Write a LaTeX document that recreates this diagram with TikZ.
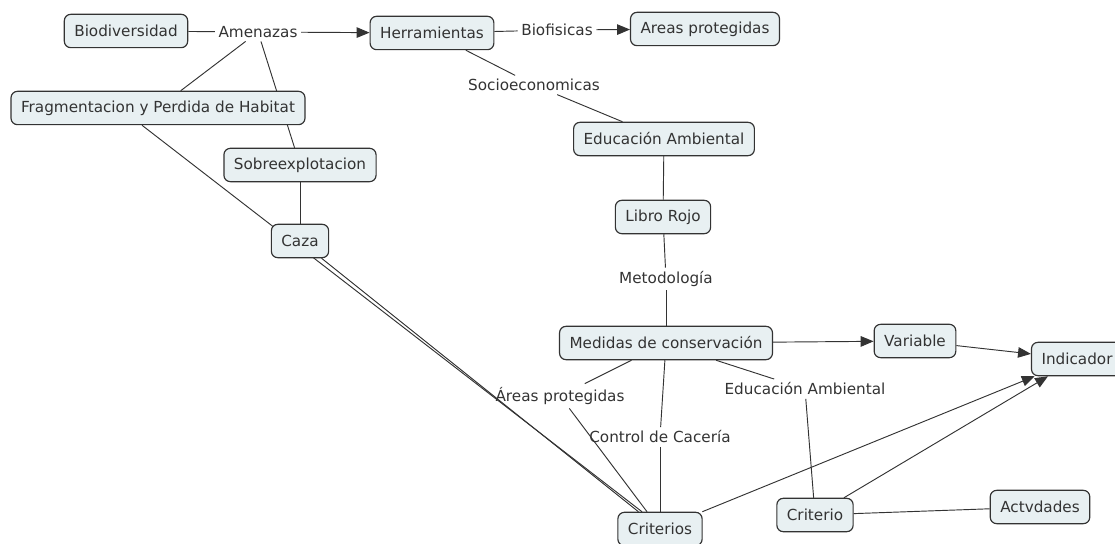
\documentclass[tikz,border=0pt]{standalone}
\usepackage{fontspec}
\setmainfont{DejaVu Sans}
\usetikzlibrary{arrows.meta,backgrounds,calc}
\definecolor{boxfill}{HTML}{E8F0F2}
\definecolor{ink}{HTML}{333333}
\tikzset{
  concept/.style={draw=ink,fill=boxfill,rounded corners=1ex,line width=1pt,
    minimum height=1cm,inner xsep=0.3cm,text=ink,font=\fontsize{13}{15}\selectfont},
  linkword/.style={inner sep=3pt,text=ink,font=\fontsize{13}{15}\selectfont},
  link/.style={draw=ink,line width=0.8pt},
  linkto/.style={link,-{Triangle[length=11pt,width=9pt]}}
}
\begin{document}
\begin{tikzpicture}[x=0.03cm,y=-0.03cm]
        \useasboundingbox (0,0) rectangle (1115,544);
        %% Concepts
        \node[concept] (bio) at (126,31) {Biodiversidad};
        \node[concept] (herr) at (432,33) {Herramientas};
        \node[concept] (areas) at (705,29) {Areas protegidas};
        \node[concept] (frag) at (158,108) {Fragmentacion y Perdida de Habitat};
        \node[concept] (sobre) at (300,165) {Sobreexplotacion};
        \node[concept] (caza) at (300,241) {Caza};
        \node[concept] (edu) at (664,139) {Educación Ambiental};
        \node[concept] (libro) at (663,217) {Libro Rojo};
        \node[concept] (medidas) at (666,343) {Medidas de conservación};
        \node[concept] (var) at (915,341) {Variable};
        \node[concept] (ind) at (1077,359) {Indicador};
        \node[concept] (crits) at (660,529) {Criterios};
        \node[concept] (crit) at (815,515) {Criterio};
        \node[concept] (act) at (1040,507) {Actvdades};
        %% Linking words
        \node[linkword] (amen) at (258,32) {Amenazas};
        \node[linkword] (biof) at (557,30) {Biofisicas};
        \node[linkword] (socio) at (534,85) {Socioeconomicas};
        \node[linkword] (metod) at (666,279) {Metodología};
        \node[linkword] (lareas) at (560,396) {Áreas protegidas};
        \node[linkword] (control) at (660,437) {Control de Cacería};
        \node[linkword] (ledu) at (805,389) {Educación Ambiental};
        %% Lines
        \begin{scope}[on background layer]
        \draw[link] (bio) -- (amen);
        \draw[linkto] (amen) -- (herr);
        \draw[link] (amen) -- (frag);
        \draw[link] (amen) -- (sobre);
        \draw[link] (herr) -- (biof);
        \draw[linkto] (biof) -- (areas);
        \draw[link] (herr) -- (socio);
        \draw[link] (socio) -- (edu);
        \draw[link] (edu) -- (libro);
        \draw[link] (libro) -- (metod);
        \draw[link] (metod) -- (medidas);
        \draw[link] (sobre) -- (caza);
        \draw[link] ($(frag.south)+(-16,0)$) -- ($(crits.north)+(-18,0)$);
        \draw[link] (caza) -- (crits);
        \draw[link] (medidas) -- (lareas);
        \draw[link] (lareas) -- (crits);
        \draw[link] (medidas) -- (control);
        \draw[link] (control) -- (crits);
        \draw[link] ($(medidas.south)+(50,0)$) -- (ledu);
        \draw[link] (ledu) -- (crit);
        \draw[linkto] (medidas) -- (var);
        \draw[linkto] (var) -- (ind);
        \draw[linkto] (crits) -- (ind);
        \draw[linkto] (crit) -- (ind);
        \draw[link] (crit) -- (act);
        \end{scope}
\end{tikzpicture}
\end{document}
